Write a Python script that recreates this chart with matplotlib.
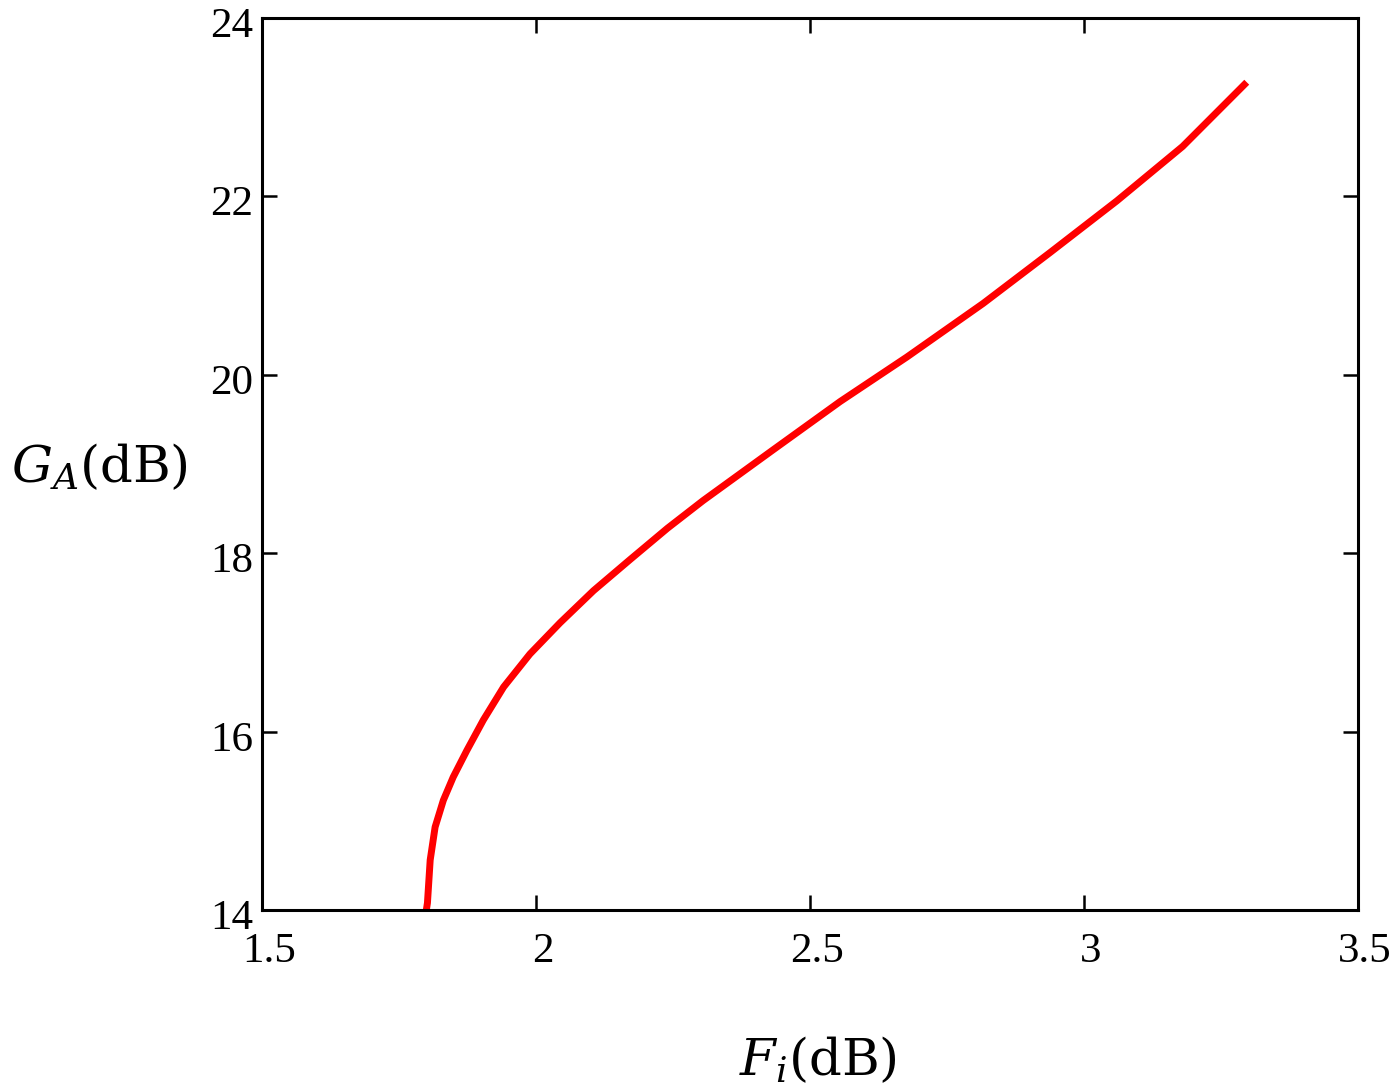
import matplotlib
matplotlib.use("Agg")
import matplotlib.pyplot as plt
import matplotlib.transforms as mtransforms

# Curve (noise figure F_i in dB vs available gain G_A in dB)
fi_db = [1.800, 1.802, 1.807, 1.816, 1.831, 1.849, 1.874, 1.904, 1.941, 1.989,
         2.044, 2.105, 2.172, 2.240, 2.305, 2.433, 2.555, 2.677, 2.816,
         2.938, 3.060, 3.180, 3.297]
ga_db = [14.00, 14.08, 14.56, 14.93, 15.23, 15.49, 15.79, 16.13, 16.50, 16.87,
         17.22, 17.58, 17.93, 18.28, 18.59, 19.16, 19.70, 20.20, 20.80,
         21.37, 21.95, 22.56, 23.28]

x_ticks = [1.5, 2, 2.5, 3, 3.5]
x_ticklabels = ["1.5", "2", "2.5", "3", "3.5"]
y_ticks = [14, 16, 18, 20, 22, 24]
y_ticklabels = ["14", "16", "18", "20", "22", "24"]

plt.rcParams['mathtext.fontset'] = 'dejavuserif'

fig = plt.figure(figsize=(14, 10.91), dpi=100)
ax = fig.add_axes([0.1871, 0.1659, 0.9700 - 0.1871, 0.9835 - 0.1659])

ax.plot(fi_db, ga_db, color="#ff0000", lw=5.0, solid_capstyle="butt",
        solid_joinstyle="round")

ax.set_xlim(1.5, 3.5)
ax.set_ylim(14, 24)
ax.set_xticks(x_ticks)
ax.set_xticklabels(x_ticklabels)
ax.set_yticks(y_ticks)
ax.set_yticklabels(y_ticklabels)

for sp in ax.spines.values():
    sp.set_linewidth(2.2)
    sp.set_color("black")

ax.tick_params(axis="both", which="major", direction="in", length=11, width=1.8,
               top=True, right=True, colors="black")
ax.tick_params(axis="x", pad=16)
ax.tick_params(axis="y", pad=6)

dx = mtransforms.ScaledTranslation(5 / 72, 0, fig.dpi_scale_trans)
dy = mtransforms.ScaledTranslation(0, -3 / 72, fig.dpi_scale_trans)
for lab in ax.get_xticklabels():
    lab.set_fontfamily("Liberation Serif")
    lab.set_fontsize(31)
    lab.set_transform(lab.get_transform() + dx)
for lab in ax.get_yticklabels():
    lab.set_fontfamily("Liberation Serif")
    lab.set_fontsize(31)
    lab.set_transform(lab.get_transform() + dy)

fig.text(0.0714, 0.558, r"$G_A$(dB)", fontsize=37, family="DejaVu Serif",
         ha="center", va="baseline")
fig.text(0.584, 0.0147, r"$F_i$(dB)", fontsize=37, family="DejaVu Serif",
         ha="center", va="baseline")

fig.savefig("out.png", dpi=100, facecolor="white")
